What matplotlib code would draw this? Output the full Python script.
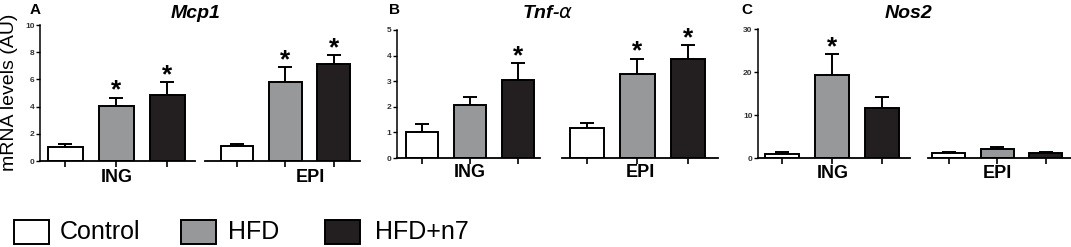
import numpy as np
import matplotlib.pyplot as plt
from matplotlib.patches import Rectangle

plt.rcParams['font.family'] = ['Liberation Sans', 'DejaVu Sans']

#data
groups = ["ING", "EPI"]
conditions = ["Control", "HFD", "HFD+n7"]
barColors = ["#ffffff", "#97989a", "#231f20"]

mcp1Mean = [[1.0, 4.05, 4.85], [1.1, 5.8, 7.15]]
mcp1Err = [[0.25, 0.6, 0.95], [0.12, 1.1, 0.65]]
mcp1Star = [[False, True, True], [False, True, True]]

tnfMean = [[1.0, 2.07, 3.05], [1.17, 3.3, 3.87]]
tnfErr = [[0.33, 0.32, 0.65], [0.18, 0.58, 0.55]]
tnfStar = [[False, False, True], [False, True, True]]

nos2Mean = [[1.0, 19.4, 11.6], [1.2, 2.1, 1.1]]
nos2Err = [[0.4, 4.7, 2.6], [0.2, 0.5, 0.3]]
nos2Star = [[False, True, False], [False, False, False]]

W, H = 1071, 247
fig = plt.figure(figsize=(W/100, H/100), dpi=100)

def px(x0, y0, x1, y1):
	#pixel box (top-left origin) to figure fraction
	return [x0/W, 1 - y1/H, (x1 - x0)/W, (y1 - y0)/H]

#one panel = two broken axes sharing a y-scale
def makePanel(boxes, xlims, ylim, yticks, means, errs, stars, title, titleX, letter, letterX, labelXs, labelY):
	for g in range(2):
		ax = fig.add_axes(px(*boxes[g]))
		xs = np.arange(3)
		ax.bar(xs, means[g], width=0.68, color=barColors, edgecolor="black", linewidth=1.4, zorder=2)
		ax.errorbar(xs, means[g], yerr=[np.zeros(3), errs[g]], fmt="none", ecolor="black",
			elinewidth=1.4, capsize=5, capthick=1.4, zorder=1)
		for i in range(3):
			if stars[g][i]:
				ax.annotate("*", (xs[i], means[g][i] + errs[g][i]), xytext=(0, 0),
					textcoords="offset points", ha="center", va="baseline",
					fontsize=19, fontweight="bold")
		ax.set_xlim(*xlims[g])
		ax.set_ylim(*ylim)
		ax.set_xticks(xs)
		ax.set_xticklabels([])
		ax.tick_params(axis="x", length=4, width=1.2, direction="out")
		for s in ["top", "right"]:
			ax.spines[s].set_visible(False)
		ax.spines["bottom"].set_linewidth(1.3)
		if g == 0:
			ax.set_yticks(yticks)
			ax.set_yticklabels([str(t) for t in yticks], fontsize=6, fontweight="bold", color="#333333")
			ax.tick_params(axis="y", length=3, width=1.0, pad=1)
			ax.spines["left"].set_linewidth(1.1)
		else:
			ax.spines["left"].set_visible(False)
			ax.set_yticks([])
		#group name under each half
		fig.text(labelXs[g] / W, 1 - labelY / H, groups[g], ha="center", va="baseline",
			fontsize=13, fontweight="bold")
	fig.text(titleX / W, 1 - 13 / H, title, ha="center", va="center", fontsize=14,
		fontweight="bold", style="italic")
	fig.text(letterX / W, 1 - 10 / H, letter, ha="left", va="center", fontsize=11, fontweight="bold")

makePanel([(40, 25, 195, 161), (205, 25, 360, 161)],
	[(-0.5, 2.54), (-0.66, 2.54)], (0, 10), [0, 2, 4, 6, 8, 10],
	mcp1Mean, mcp1Err, mcp1Star, "Mcp1", 196, "A", 30, [117, 310], 182)
makePanel([(397, 30, 540, 158), (562, 30, 718, 158)],
	[(-0.52, 2.46), (-0.5, 2.6)], (0, 5), [0, 1, 2, 3, 4, 5],
	tnfMean, tnfErr, tnfStar, "Tnf-$\\alpha$", 548, "B", 389, [470, 640], 177)
makePanel([(758, 29, 910, 158), (928, 29, 1071, 158)],
	[(-0.48, 2.56), (-0.43, 2.52)], (0, 30), [0, 10, 20, 30],
	nos2Mean, nos2Err, nos2Star, "Nos2", 909, "C", 741, [833, 997], 178)

fig.text(10 / W, 1 - 92 / H, "mRNA levels (AU)", rotation=90, ha="center", va="center", fontsize=14)

#legend drawn by hand
legendBoxX = [14, 181, 325]
legendTextX = [60, 228, 375]
for i in range(3):
	fig.patches.append(Rectangle((legendBoxX[i] / W, 1 - 244 / H), 35 / W, 24 / H,
		facecolor=barColors[i], edgecolor="black", linewidth=1.4, transform=fig.transFigure))
	fig.text(legendTextX[i] / W, 1 - 232 / H, conditions[i], ha="left", va="center", fontsize=18)

fig.savefig("out.png", dpi=100)
